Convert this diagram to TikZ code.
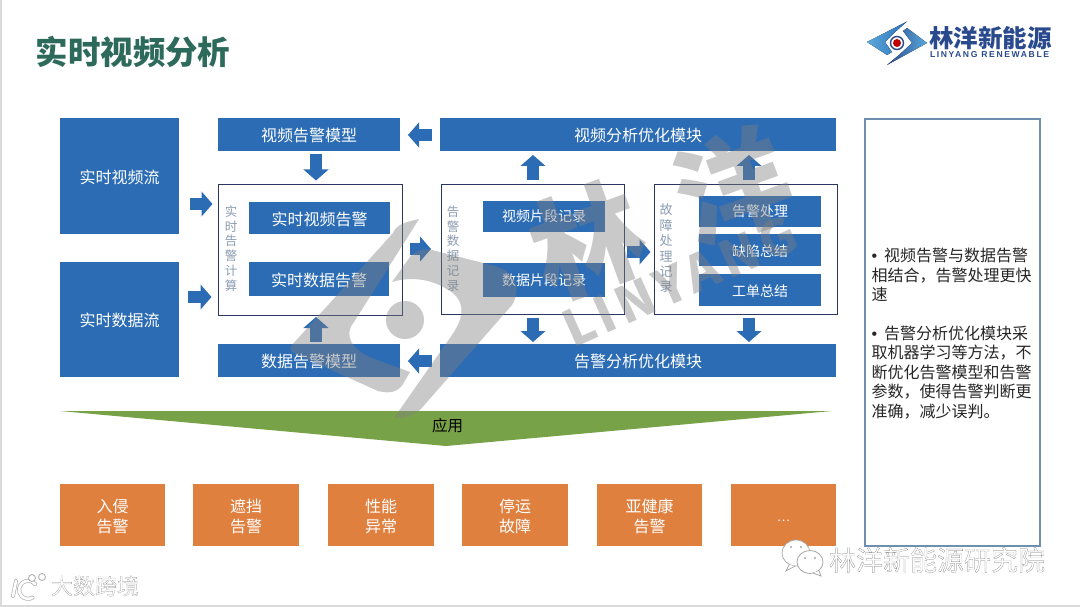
\documentclass[tikz,border=0pt]{standalone}
\usepackage{fontspec}
\setmainfont{Noto Sans CJK SC}
\newfontfamily\latinb{Liberation Sans}[LetterSpace=18.5]
\newfontfamily\bulletf{Liberation Sans}
\newfontfamily\wmlat{Noto Sans CJK SC}[LetterSpace=9]
\newfontfamily\outl{Noto Sans CJK SC}[FakeBold=0.6]
\usetikzlibrary{arrows.meta}
\definecolor{bluefill}{HTML}{2B6CB5}
\definecolor{orangefill}{HTML}{E0803F}
\definecolor{greenfill}{HTML}{78A248}
\definecolor{framecol}{HTML}{2A3560}
\definecolor{sidecol}{HTML}{6F8FAE}
\definecolor{vertcol}{HTML}{8C9DB3}
\definecolor{titlecol}{HTML}{2D6A5C}
\definecolor{logoblue}{HTML}{2A4A8E}
\definecolor{logolight}{HTML}{5AA9DC}
\definecolor{logomid}{HTML}{2D6FB8}
\definecolor{edgecol}{HTML}{DADADA}
\definecolor{wmgray}{HTML}{7F7F7F}
\tikzset{
  base/.style={inner sep=0pt,outer sep=0pt,align=center},
  bluebox/.style={base,fill=bluefill,text=white,font=\fontsize{16}{20}\selectfont},
  bluesmall/.style={bluebox,font=\fontsize{14}{18}\selectfont},
  orangebox/.style={base,fill=orangefill,text=white,font=\fontsize{16}{20}\selectfont},
  framebox/.style={base,draw=framecol,line width=1pt},
  sidebox/.style={base,draw=sidecol,line width=1.2pt},
  verttext/.style={base,text=vertcol,font=\fontsize{12.5}{14.8}\selectfont},
  barrow/.style={draw=bluefill,line width=12.5pt,-{Triangle[length=11pt,width=24.5pt]}},
  wm/.style={fill=wmgray,fill opacity=.42,draw=none},
  wmtext/.style={base,text=wmgray,text opacity=.42,font=\bfseries},
}
\newcommand{\dn}[1]{\rule{0pt}{#1pt}}
\newcommand{\rb}[7]{%
  \pgfmathsetmacro{\cx}{(#3+#5)/2}\pgfmathsetmacro{\cy}{(#4+#6)/2}%
  \pgfmathsetmacro{\ww}{#5-#3}\pgfmathsetmacro{\hh}{#6-#4}%
  \node[#1,minimum width=\ww pt,minimum height=\hh pt] (#2) at (\cx,\cy) {#7};}
\begin{document}
\begin{tikzpicture}[x=1pt,y=-1pt]
\useasboundingbox (0,0) rectangle (1080,607);
\fill[white] (0,0) rectangle (1080,607);
\fill[edgecol] (0,0) rectangle (1.5,607);
\fill[edgecol] (0,604.5) rectangle (1080,607);

% title
\node[base,anchor=west,text=titlecol,font=\fontsize{32.5}{36}\bfseries\selectfont] (title) at (35.5,52) {实时视频分析};

% logo
\fill[left color=logolight,right color=logomid] (907,21.5) -- (867,42) -- (887,55) -- (892,52) -- (885,42) -- (895,32) -- cycle;
\fill[left color=logoblue,right color=logolight] (887,65) -- (927,43) -- (907,28) -- (903,31) -- (912,43) -- (899,55) -- cycle;
\draw[logoblue,line width=1.4pt] (897,43) circle (6.5);
\fill[red!75!black] (897,43) circle (4);
\node[base,anchor=west,text=logoblue,font=\fontsize{24.5}{26}\bfseries\selectfont] (logotext) at (929,38) {林洋新能源};
\node[base,anchor=west,text=logoblue,font=\latinb\fontsize{8.6}{10}\bfseries\selectfont] (logosub) at (930,55) {LINYANG RENEWABLE};

% left streams
\rb{bluebox}{vs}{60}{118}{179}{234}{\dn{16}实时视频流}
\rb{bluebox}{ds}{60}{262}{179}{377}{\dn{16}实时数据流}

% top and bottom rows
\rb{bluebox}{vm}{218}{118}{400}{151}{\dn{16}视频告警模型}
\rb{bluebox}{va}{440}{118}{836}{151}{\dn{16}视频分析优化模块}
\rb{bluebox}{dm}{218}{344}{400}{377}{\dn{16}数据告警模型}
\rb{bluebox}{aa}{440}{344}{836}{377}{\dn{16}告警分析优化模块}

% frames
\rb{framebox}{fa}{218.5}{184.5}{402}{315}{}
\rb{framebox}{fb}{441}{184.5}{624}{314.5}{}
\rb{framebox}{fc}{654.5}{184.5}{837}{314.5}{}

\rb{bluebox}{rv}{249}{202}{390}{234}{\dn{16}实时视频告警}
\rb{bluebox}{rd}{249}{262}{389}{296}{\dn{17}实时数据告警}
\rb{bluesmall}{sv}{483}{201}{605}{232}{视频片段记录}
\rb{bluesmall}{sd}{483}{263}{605}{297}{数据片段记录}
\rb{bluesmall}{gc}{699}{196}{821}{227}{告警处理}
\rb{bluesmall}{gq}{699}{234}{821}{266}{\dn{14.5}缺陷总结}
\rb{bluesmall}{gd}{699}{274}{821}{306}{\dn{14.5}工单总结}

\node[verttext] (ta) at (231,248.5) {实\\时\\告\\警\\计\\算};
\node[verttext] (tb) at (453,248.5) {告\\警\\数\\据\\记\\录};
\node[verttext,font=\fontsize{13}{15.4}\selectfont] (tc) at (666,248.5) {故\\障\\处\\理\\记\\录};

% arrows
\draw[barrow,shorten <=11pt,shorten >=6pt] (vs.east |- 0,204) -- (fa.west |- 0,204);
\draw[barrow,shorten <=9pt,shorten >=7pt] (ds.east |- 0,297) -- (fa.west |- 0,297);
\draw[barrow,shorten <=3pt,shorten >=4pt] (316,0 |- vm.south) -- (316,0 |- fa.north);
\draw[barrow,shorten <=8pt,shorten >=10pt] (fa.east |- 0,249) -- (fb.west |- 0,249);
\draw[barrow,shorten <=3pt,shorten >=4pt] (fb.east |- 0,252) -- (fc.west |- 0,252);
\draw[barrow,shorten <=8pt,shorten >=8pt] (va.west |- 0,135) -- (vm.east |- 0,135);
\draw[barrow,shorten <=4pt,shorten >=4pt] (533,0 |- fb.north) -- (533,0 |- va.south);
\draw[barrow,shorten <=4pt,shorten >=4pt] (749,0 |- fc.north) -- (749,0 |- va.south);
\draw[barrow,shorten <=3pt,shorten >=2pt] (533,0 |- fb.south) -- (533,0 |- aa.north);
\draw[barrow,shorten <=3pt,shorten >=2pt] (749,0 |- fc.south) -- (749,0 |- aa.north);
\draw[barrow,shorten <=8pt,shorten >=8pt] (aa.west |- 0,361) -- (dm.east |- 0,361);
\draw[barrow,shorten <=2pt,shorten >=2pt] (316,0 |- dm.north) -- (316,0 |- fa.south);

% application band
\fill[greenfill] (60,411) -- (832,411) -- (446,446) -- cycle;
\node[base,text=black,font=\fontsize{15.5}{18}\selectfont] (app) at (447.5,426) {应用};

% outcomes
\rb{orangebox}{o1}{60}{484}{165}{546}{\dn{17}入侵\\告警}
\rb{orangebox}{o2}{193}{484}{299}{546}{\dn{17}遮挡\\告警}
\rb{orangebox}{o3}{328}{484}{434}{546}{\dn{17}性能\\异常}
\rb{orangebox}{o4}{462}{484}{568}{546}{\dn{17}停运\\故障}
\rb{orangebox}{o5}{597}{484}{702}{546}{\dn{17}亚健康\\告警}
\rb{orangebox}{o6}{731}{484}{836}{546}{\fontsize{12}{14}\selectfont\dn{13}…}

% side notes
\rb{sidebox}{side}{865}{119}{1040}{546}{}
\node[base,anchor=north west,align=left,text=black!85,font=\fontsize{16}{19.4}\selectfont] (notes) at (871.5,248.5) {{\bulletf •}\hspace{7pt}视频告警与数据告警\\相结合，告警处理更快\\速\\[19.4pt]{\bulletf •}\hspace{7pt}告警分析优化模块采\\取机器学习等方法，不\\断优化告警模型和告警\\参数，使得告警判断更\\准确，减少误判。};

% watermark
\fill[wm] (419,219) .. controls (405,222) and (396,225) .. (393,233) -- (292,345) .. controls (288,350) and (292,352) .. (296,354) -- (378,391) .. controls (390,394) and (398,392) .. (403,384) -- (410,372) -- (372,358) .. controls (352,350) and (343,335) .. (354,322) -- cycle;
\fill[wm] (392,282) -- (410,257) .. controls (416,250) and (424,248) .. (432,250) -- (495,266) .. controls (515,272) and (522,288) .. (512,305) -- (420,410) .. controls (410,418) and (402,418) .. (394,418) -- (452,335) .. controls (466,315) and (465,298) .. (445,288) .. controls (428,278) and (408,277) .. (392,282) -- cycle;
\fill[wm] (405,320) circle (19);
\node[wmtext,font=\fontsize{112}{112}\bfseries\selectfont,rotate=20] (wma) at (588,240) {林};
\node[wmtext,font=\fontsize{112}{112}\bfseries\selectfont,rotate=20] (wmb) at (733,186) {洋};
\node[wmtext,font=\wmlat\fontsize{50}{50}\bfseries\selectfont,rotate=24] (wmc) at (680,281) {LINYANG};

% bottom stamps
\node[base,anchor=west,text=white,font=\outl\fontsize{27}{30}\selectfont] (stampb) at (829,560) {\special{pdf:code 0.45 0.45 0.45 RG}林洋新能源研究院};
\draw[gray!70,line width=.7pt,fill=white] (796,553) ellipse (14 and 13);
\draw[gray!70,line width=.7pt,fill=white] (789,565) -- (786,571) -- (795,566);
\draw[gray!70,line width=.8pt,fill=white] (810,562) ellipse (13 and 11.5);
\draw[gray!70,line width=.8pt,fill=white] (813,573) -- (821,576) -- (819,571);
\fill[gray!70] (791,547) circle (1.2) (801,547) circle (1.2) (805,558) circle (1.2) (815,558) circle (1.2);
\draw[gray!60,line width=4pt,line cap=round] (16,581) -- (13,596);
\draw[gray!60,line width=4pt,line cap=round] (35,584) arc (-40:-300:9);
\draw[white,line width=2.6pt,line cap=round] (16,581) -- (13,596);
\draw[white,line width=2.6pt,line cap=round] (35,584) arc (-40:-300:9);
\draw[gray!60,line width=.9pt,fill=white] (32,578) circle (3.5);
\draw[gray!60,line width=.9pt,fill=white] (42,577) circle (3.5);
\node[base,anchor=west,text=white,font=\outl\fontsize{22}{24}\selectfont] (stampa) at (51,586) {\special{pdf:code 0.5 0.5 0.5 RG}大数跨境};
\end{tikzpicture}
\end{document}
